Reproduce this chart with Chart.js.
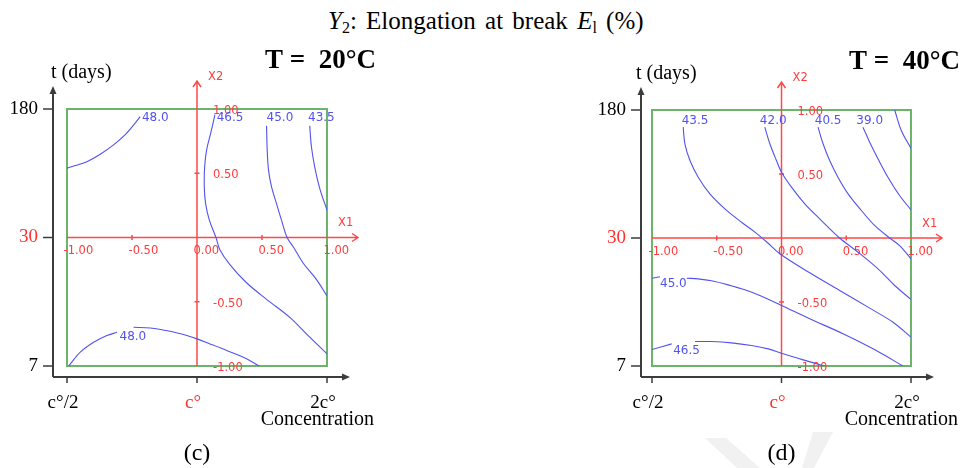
<!DOCTYPE html>
<html>
<head>
<meta charset="utf-8">
<script src="https://cdn.jsdelivr.net/npm/chart.js@4"></script>
<style>
  body { margin: 0; background: #fff; }
  #wrap { position: relative; width: 961px; height: 468px; overflow: hidden; font-family: "Liberation Serif", "Times New Roman", serif; }
  #title { position: absolute; left: 328px; top: 8px; font-size: 25px; line-height: 25px; word-spacing: 3px; white-space: nowrap; color: #000; }
  #title sub { font-size: 16px; line-height: 0; vertical-align: -4px; }
  #mark { position: absolute; left: 0; top: 0; }
  canvas { position: absolute; top: 0; }
</style>
</head>
<body>
<div id="wrap">
  <svg id="mark" width="961" height="468">
    <polygon points="705,438 726,438 760,468 737,468" fill="#f1f1f1"/>
    <polygon points="813,432 833,432 814,468 802,468" fill="#f1f1f1"/>
  </svg>
  <div id="title"><i>Y</i><sub>2</sub>: Elongation at break <i>E</i><sub>l</sub> (%)</div>
  <canvas id="p20" width="480" height="468" style="left:0"></canvas>
  <canvas id="p40" width="481" height="468" style="left:480px"></canvas>
</div>
<script>
// coded factor levels (X1 = concentration, X2 = storage time)
const codedTicks = [-1, -0.5, 0, 0.5, 1];
const concTicks = ['c°/2', 'c°', '2c°'];
const timeTicks = ['180', '30', '7'];

// T = 20 °C: iso-response lines, each a list of segments of [X1, X2] points
const levels20 = [48.0, 46.5, 45.0, 43.5, 48.0];
const iso20 = [
  [[[-1.0, 0.54], [-0.936, 0.56], [-0.847, 0.59], [-0.744, 0.648], [-0.642, 0.721], [-0.552, 0.80], [-0.476, 0.89], [-0.437, 0.94]]],
  [[[0.138, 0.956], [0.105, 0.81], [0.074, 0.682], [0.059, 0.552], [0.056, 0.396], [0.066, 0.266], [0.095, 0.135], [0.146, 0.0],
    [0.176, -0.095], [0.253, -0.211], [0.381, -0.352], [0.535, -0.481], [0.714, -0.622], [0.867, -0.776], [1.0, -0.905]]],
  [[[0.535, 0.87], [0.54, 0.68], [0.55, 0.526], [0.573, 0.396], [0.611, 0.266], [0.65, 0.135], [0.693, 0.0],
    [0.739, -0.07], [0.816, -0.198], [0.918, -0.326], [1.0, -0.455]]],
  [[[0.867, 0.87], [0.88, 0.708], [0.905, 0.552], [0.944, 0.383], [1.0, 0.213]]],
  [[[-0.987, -1.0], [-0.898, -0.892], [-0.795, -0.815], [-0.693, -0.763], [-0.616, -0.738]],
   [[-0.488, -0.699], [-0.36, -0.704], [-0.207, -0.73], [-0.079, -0.763], [0.0, -0.789], [0.1, -0.828],
    [0.228, -0.879], [0.381, -0.943], [0.478, -1.0]]]
];
const labelAt20 = [[-0.424, 0.93], [0.151, 0.93], [0.535, 0.93], [0.854, 0.93], [-0.596, -0.774]];

// T = 40 °C
const levels40 = [43.5, 42.0, 40.5, 39.0, 37.5, 45.0, 46.5];
const iso40 = [
  [[[-0.759, 0.866], [-0.746, 0.736], [-0.707, 0.605], [-0.643, 0.475], [-0.553, 0.345], [-0.437, 0.228], [-0.308, 0.123],
    [-0.21, 0.05], [-0.11, -0.035], [-0.013, -0.123], [0.218, -0.272], [0.449, -0.41], [0.681, -0.548], [0.861, -0.658], [1.0, -0.775]]],
  [[[-0.129, 0.866], [-0.09, 0.736], [-0.039, 0.605], [0.0, 0.514], [0.077, 0.397], [0.18, 0.267], [0.295, 0.15], [0.449, 0.0],
    [0.591, -0.111], [0.745, -0.241], [0.874, -0.371], [1.0, -0.48]]],
  [[[0.282, 0.866], [0.321, 0.736], [0.372, 0.605], [0.436, 0.475], [0.514, 0.345], [0.617, 0.215], [0.719, 0.098], [0.835, 0.0],
    [0.912, -0.059], [1.0, -0.163]]],
  [[[0.629, 0.866], [0.681, 0.748], [0.745, 0.619], [0.822, 0.475], [0.912, 0.332], [1.0, 0.22]]],
  [[[0.874, 1.0], [0.925, 0.84], [1.0, 0.70]]],
  [[[-1.0, -0.314], [-0.938, -0.303]],
   [[-0.732, -0.314], [-0.643, -0.319], [-0.54, -0.334], [-0.412, -0.366], [-0.283, -0.405], [-0.154, -0.455], [0.0, -0.527],
    [0.218, -0.631], [0.475, -0.748], [0.732, -0.879], [0.937, -1.0]]],
  [[[-1.0, -0.871], [-0.848, -0.827]],
   [[-0.668, -0.809], [-0.54, -0.809], [-0.386, -0.819], [-0.231, -0.84], [-0.103, -0.866], [0.0, -0.9], [0.167, -0.952], [0.334, -1.0]]]
];
const labelAt40 = [[-0.771, 0.918], [-0.167, 0.918], [0.257, 0.918], [0.578, 0.918], null, [-0.938, -0.358], [-0.836, -0.879]];

const BLUE = '#5252ee';
const RED = '#ff4848';
const GREEN = '#6cb46c';
const AXIS = '#3c3c3c';
const SERIF = '"Liberation Serif", "Times New Roman", serif';

function drawFrame(cfg) {
  return {
    id: 'frame',
    beforeDatasetsDraw(chart) {
      const { ctx, chartArea: a, scales: { x, y } } = chart;
      const cx = x.getPixelForValue(0), cy = y.getPixelForValue(0);
      ctx.save();
      // design square
      ctx.strokeStyle = GREEN;
      ctx.lineWidth = 2;
      ctx.strokeRect(a.left, a.top, a.right - a.left, a.bottom - a.top);

      // coded axes X1 / X2
      ctx.strokeStyle = RED;
      ctx.lineWidth = 1.5;
      const xEnd = a.right + 31, yEnd = a.top - 28;
      ctx.beginPath();
      ctx.moveTo(a.left, cy); ctx.lineTo(xEnd, cy);
      ctx.moveTo(xEnd - 6, cy - 4); ctx.lineTo(xEnd, cy); ctx.lineTo(xEnd - 6, cy + 4);
      ctx.moveTo(cx, a.bottom); ctx.lineTo(cx, yEnd);
      ctx.moveTo(cx - 4, yEnd + 6); ctx.lineTo(cx, yEnd); ctx.lineTo(cx + 4, yEnd + 6);
      [-0.5, 0.5].forEach(v => {
        const px = x.getPixelForValue(v), py = y.getPixelForValue(v);
        ctx.moveTo(px, cy - 2.5); ctx.lineTo(px, cy + 2.5);
        ctx.moveTo(cx - 2.5, py); ctx.lineTo(cx + 2.5, py);
      });
      ctx.stroke();

      ctx.fillStyle = '#ff3a3a';
      ctx.font = '11.5px "DejaVu Sans", sans-serif';
      ctx.textBaseline = 'middle';
      ctx.textAlign = 'left';
      codedTicks.forEach(v => {
        ctx.fillText(v.toFixed(2), x.getPixelForValue(v) - 3.5, cy + 14);
        if (v !== 0) ctx.fillText(v.toFixed(2), cx + 16, y.getPixelForValue(v) + 2);
      });
      ctx.fillText('X1', a.right + 11, cy - 14);
      ctx.fillText('X2', cx + 11, a.top - 32);
      ctx.restore();
    },
    afterDatasetsDraw(chart) {
      const { ctx, chartArea: a, scales: { x, y } } = chart;
      ctx.save();
      // contour labels
      ctx.fillStyle = BLUE;
      ctx.font = '12px "DejaVu Sans", sans-serif';
      ctx.textBaseline = 'middle';
      ctx.textAlign = 'left';
      cfg.labelAt.forEach((p, i) => {
        if (!p) return;
        ctx.fillText(cfg.levels[i].toFixed(1), x.getPixelForValue(p[0]), y.getPixelForValue(p[1]));
      });

      // real-unit axes: concentration and storage time
      const ax = a.left - cfg.axisGap, ay = a.bottom + 11;
      const top = a.top - 23, right = a.right + 23;
      ctx.strokeStyle = AXIS;
      ctx.fillStyle = AXIS;
      ctx.lineWidth = 2;
      ctx.beginPath();
      ctx.moveTo(ax, ay); ctx.lineTo(ax, top + 6);
      ctx.moveTo(ax, ay); ctx.lineTo(right - 6, ay);
      ctx.stroke();
      ctx.beginPath();
      ctx.moveTo(ax, top); ctx.lineTo(ax - 3.5, top + 8); ctx.lineTo(ax + 3.5, top + 8); ctx.closePath();
      ctx.moveTo(right, ay); ctx.lineTo(right - 8, ay - 3.5); ctx.lineTo(right - 8, ay + 3.5); ctx.closePath();
      ctx.fill();
      ctx.lineWidth = 1.5;
      ctx.beginPath();
      [-1, 0, 1].forEach(v => {
        const py = y.getPixelForValue(v), px = x.getPixelForValue(v);
        ctx.moveTo(ax - 10, py); ctx.lineTo(ax, py);
        ctx.moveTo(px, ay); ctx.lineTo(px, ay + 6);
      });
      ctx.stroke();

      ctx.font = '19px ' + SERIF;
      ctx.textBaseline = 'middle';
      ctx.textAlign = 'right';
      [1, 0, -1].forEach((v, i) => {
        ctx.fillStyle = v === 0 ? '#ff3030' : '#000';
        ctx.fillText(timeTicks[i], ax - 15, y.getPixelForValue(v));
      });
      ctx.textBaseline = 'alphabetic';
      ctx.textAlign = 'center';
      [-1, 0, 1].forEach((v, i) => {
        ctx.fillStyle = v === 0 ? '#ff3030' : '#000';
        ctx.fillText(concTicks[i], x.getPixelForValue(v) - 4, a.bottom + 42);
      });
      ctx.fillStyle = '#000';
      ctx.textAlign = 'right';
      ctx.font = '20px ' + SERIF;
      ctx.fillText('Concentration', a.right + 47, a.bottom + 59);
      ctx.textAlign = 'left';
      ctx.fillText('t (days)', a.left - 16, a.top - 31);
      ctx.font = 'bold 27px ' + SERIF;
      ctx.fillText(cfg.temp, a.right - 62, a.top - 41);
      ctx.font = '24px ' + SERIF;
      ctx.textAlign = 'center';
      ctx.fillText(cfg.tag, (a.left + a.right) / 2, 460);
      ctx.restore();
    }
  };
}

function makePanel(id, cfg) {
  const datasets = [];
  cfg.lines.forEach(segs => segs.forEach(seg => datasets.push({
    data: seg.map(p => ({ x: p[0], y: p[1] })),
    showLine: true,
    borderColor: BLUE,
    borderWidth: 1.1,
    pointRadius: 0,
    tension: 0.35,
    fill: false
  })));

  new Chart(document.getElementById(id), {
    type: 'scatter',
    data: { datasets },
    options: {
      responsive: false,
      animation: false,
      events: [],
      layout: { padding: cfg.padding },
      scales: {
        x: { min: -1, max: 1, display: false },
        y: { min: -1, max: 1, display: false }
      },
      plugins: { legend: { display: false }, tooltip: { enabled: false } }
    },
    plugins: [drawFrame(cfg)]
  });
}

makePanel('p20', {
  lines: iso20, levels: levels20, labelAt: labelAt20,
  temp: 'T =  20°C', tag: '(c)', axisGap: 14,
  padding: { left: 67, top: 109, right: 153, bottom: 102 }
});
makePanel('p40', {
  lines: iso40, levels: levels40, labelAt: labelAt40,
  temp: 'T =  40°C', tag: '(d)', axisGap: 11,
  padding: { left: 172, top: 110, right: 50, bottom: 102 }
});
</script>
</body>
</html>
